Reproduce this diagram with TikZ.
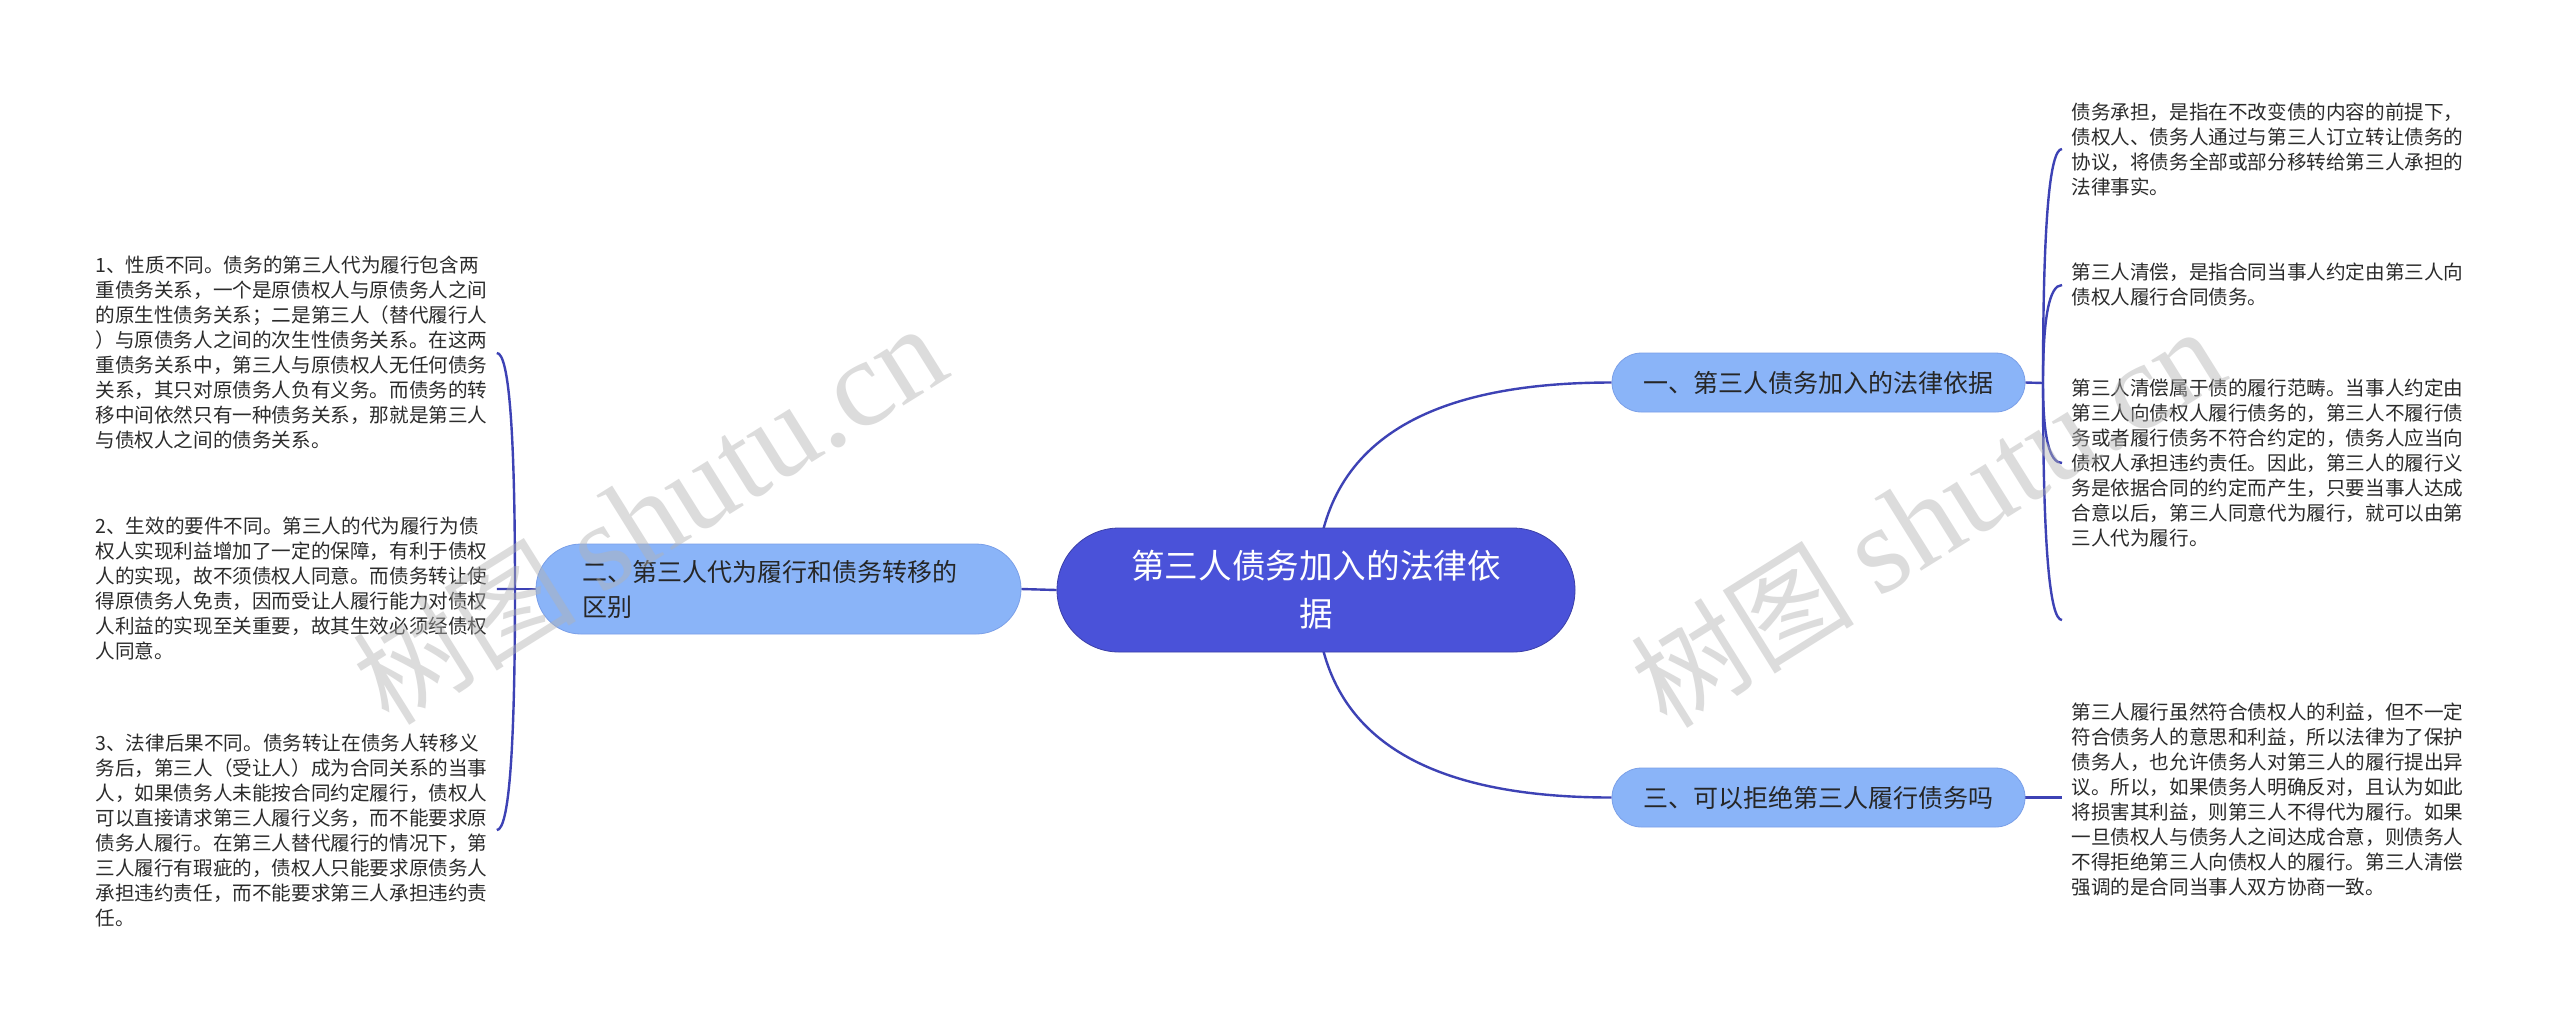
\documentclass[tikz,border=0pt]{standalone}
\usepackage{fontspec}
\setmainfont{Noto Sans CJK SC}
\newfontfamily\wmserif{Liberation Serif}
\usepackage{tikz}
\usetikzlibrary{
	positioning,
	calc,
	backgrounds}
\definecolor{rootblue}{HTML}{4A52D9}
\definecolor{rootedge}{HTML}{3B3FA8}
\definecolor{topicblue}{HTML}{8AB4F8}
\definecolor{topicedge}{HTML}{7A9FE8}
\definecolor{linkblue}{HTML}{3D42B5}
\definecolor{leaftext}{HTML}{2B2B2B}
\tikzset{
	mindmap px/.style={x=0.5pt, y=-0.5pt},
	branch/.style={draw=linkblue, line width=1.2pt},
	root/.style={
		rectangle,
		rounded corners=31pt,
		draw=rootedge,
		fill=rootblue,
		text=white,
		align=center,
		minimum width=259pt,
		minimum height=62pt,
		font=\fontsize{16.8pt}{24pt}\selectfont
	},
	topic/.style={
		rectangle,
		draw=topicedge,
		fill=topicblue,
		text=black!85,
		font=\fontsize{12.5pt}{17.5pt}\selectfont
	},
	leaf/.style={
		anchor=west,
		inner xsep=4.5pt,
		inner ysep=0pt,
		align=left,
		text=leaftext,
		font=\fontsize{9.8pt}{12.5pt}\selectfont
	},
	watermark/.style={
		text=black!30,
		opacity=.45,
		rotate=32,
		font=\fontsize{56pt}{56pt}\selectfont
	},
}
\newcommand{\curvelink}[2]{%
	\draw[branch] (#1) .. controls ($(#1)!.67!(#1 |- #2)$) and ($(#2)!.67!(#1 |- #2)$) .. (#2);}

\begin{document}
\begin{tikzpicture}[mindmap px]
	\useasboundingbox (0,0) rectangle (2560,1025);
	\node[root] (c) at (1316,590) {第三人债务加入的法律依\\据};
	\node[topic, rounded corners=22.5pt, minimum height=45pt, text width=196.5pt, inner xsep=23pt, align=left] (n2) at (778.5,589) {二、第三人代为履行和债务转移的\\区别};
	\node[topic, rounded corners=14.75pt, minimum width=206.5pt, minimum height=29.5pt, align=center] (n1) at (1818.5,382.5) {一、第三人债务加入的法律依据};
	\node[topic, rounded corners=14.75pt, minimum width=206.5pt, minimum height=29.5pt, align=center] (n3) at (1818.5,797.5) {三、可以拒绝第三人履行债务吗};
	\coordinate (h1) at (2043,383);
	\coordinate (h2) at (515,589);
	\node[leaf] (t11) at (2062,149) {债务承担，是指在不改变债的内容的前提下，\\
		债权人、债务人通过与第三人订立转让债务的\\
		协议，将债务全部或部分移转给第三人承担的\\
		法律事实。};
	\node[leaf] (t12) at (2062,285) {第三人清偿，是指合同当事人约定由第三人向\\
		债权人履行合同债务。};
	\node[leaf] (t13) at (2062,463) {第三人清偿属于债的履行范畴。当事人约定由\\
		第三人向债权人履行债务的，第三人不履行债\\
		务或者履行债务不符合约定的，债务人应当向\\
		债权人承担违约责任。因此，第三人的履行义\\
		务是依据合同的约定而产生，只要当事人达成\\
		合意以后，第三人同意代为履行，就可以由第\\
		三人代为履行。};
	\coordinate (e14) at (2062,620);
	\node[leaf] (t31) at (2062,800) {第三人履行虽然符合债权人的利益，但不一定\\
		符合债务人的意思和利益，所以法律为了保护\\
		债务人，也允许债务人对第三人的履行提出异\\
		议。所以，如果债务人明确反对，且认为如此\\
		将损害其利益，则第三人不得代为履行。如果\\
		一旦债权人与债务人之间达成合意，则债务人\\
		不得拒绝第三人向债权人的履行。第三人清偿\\
		强调的是合同当事人双方协商一致。};
	\node[leaf] (t21) at (86,353) {1、性质不同。债务的第三人代为履行包含两\\
		重债务关系，一个是原债权人与原债务人之间\\
		的原生性债务关系；二是第三人（替代履行人\\
		）与原债务人之间的次生性债务关系。在这两\\
		重债务关系中，第三人与原债权人无任何债务\\
		关系，其只对原债务人负有义务。而债务的转\\
		移中间依然只有一种债务关系，那就是第三人\\
		与债权人之间的债务关系。};
	\node[leaf] (t22) at (86,589) {2、生效的要件不同。第三人的代为履行为债\\
		权人实现利益增加了一定的保障，有利于债权\\
		人的实现，故不须债权人同意。而债务转让使\\
		得原债务人免责，因而受让人履行能力对债权\\
		人利益的实现至关重要，故其生效必须经债权\\
		人同意。};
	\node[leaf] (t23) at (86,830) {3、法律后果不同。债务转让在债务人转移义\\
		务后，第三人（受让人）成为合同关系的当事\\
		人，如果债务人未能按合同约定履行，债权人\\
		可以直接请求第三人履行义务，而不能要求原\\
		债务人履行。在第三人替代履行的情况下，第\\
		三人履行有瑕疵的，债权人只能要求原债务人\\
		承担违约责任，而不能要求第三人承担违约责\\
		任。};
	\begin{scope}[on background layer]
		\fill[white] (0,0) rectangle (2560,1025);
		\curvelink{c.center}{n1.west}
		\curvelink{c.center}{n3.west}
		\draw[branch] (c.west) -- (n2.east);
		\draw[branch] (n1.east) -- (h1);
		\draw[branch] (n2.west) -- (h2);
		\draw[branch] (n3.east) -- (n3.east -| t31.west);
		\foreach \t in {t11,t12,t13}{
			\curvelink{h1}{\t.west}
		}
		\curvelink{h1}{e14}
		\foreach \t in {t21,t22,t23}{
			\curvelink{h2}{\t.east}
		}
	\end{scope}
	\node[watermark] (w1) at (649,515) {树图 {\wmserif\fontsize{62pt}{62pt}\selectfont shutu.cn}};
	\node[watermark] (w2) at (1927,518) {树图 {\wmserif\fontsize{62pt}{62pt}\selectfont shutu.cn}};
\end{tikzpicture}
\end{document}
